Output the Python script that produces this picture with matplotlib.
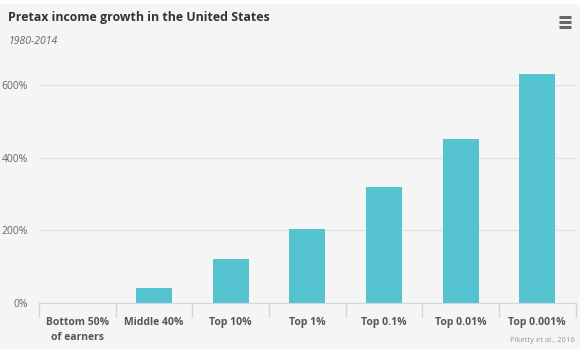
import matplotlib.pyplot as plt
from matplotlib.patches import Rectangle
from matplotlib.lines import Line2D
import numpy as np

plt.rcParams['font.family'] = ['Open Sans', 'DejaVu Sans']

categories = ['Bottom 50%\nof earners', 'Middle 40%', 'Top 10%', 'Top 1%',
              'Top 0.1%', 'Top 0.01%', 'Top 0.001%']
growth = [0, 40, 121, 204, 320, 450, 630]
yticks = [0, 200, 400, 600]
ytick_labels = ['0%', '200%', '400%', '600%']

W, H = 580, 360
fig = plt.figure(figsize=(W / 100, H / 100), dpi=100)
fig.patch.set_facecolor('white')

# grey chart background
fig.patches.append(Rectangle((0, 1 - 349 / H), 1, (349 - 4) / H,
                             transform=fig.transFigure, facecolor='#f5f5f5',
                             edgecolor='none', zorder=-5))

ax = fig.add_axes([39 / W, 57 / H, 536.5 / W, 236.3 / H])
ax.set_facecolor('none')
ax.set_zorder(2)

x = np.arange(len(categories))
ax.bar(x, growth, width=0.47, color='#56c3d0', zorder=3)

ax.set_xlim(-0.5, len(categories) - 0.5)
ax.set_ylim(0, 650)
ax.set_yticks(yticks)
ax.set_yticklabels(ytick_labels, color='#666666', fontsize=7.5)
ax.tick_params(axis='y', length=0, pad=8)
ax.grid(axis='y', color='#e3e3e3', linewidth=1, zorder=0)

# x labels at centres, ticks at boundaries
ax.set_xticks(x)
ax.set_xticklabels(categories, fontsize=7.5, fontweight='bold', color='#555555',
                   linespacing=1.5)
ax.tick_params(axis='x', length=0, pad=10)
ax.set_xticks(np.arange(len(categories) + 1) - 0.5, minor=True)
ax.tick_params(axis='x', which='minor', length=10, color='#cfd6e0', width=1)

for s in ['top', 'right', 'left']:
    ax.spines[s].set_visible(False)
ax.spines['bottom'].set_color('#cfd6e0')

fig.text(8 / W, 1 - 18 / H, 'Pretax income growth in the United States',
         fontsize=8.9, fontweight='bold', color='#333333', va='center')
fig.text(8 / W, 1 - 42 / H, '1980-2014', fontsize=7.5, style='italic',
         color='#666666', va='center')
fig.text(575 / W, 1 - 340 / H, 'Piketty et al., 2016', fontsize=5.5,
         color='#999999', ha='right', va='center')

# menu icon
for yy in [17, 22, 27]:
    fig.add_artist(Line2D([559 / W, 571 / W], [1 - yy / H, 1 - yy / H],
                          transform=fig.transFigure, color='#666666',
                          linewidth=2.2, solid_capstyle='butt'))

fig.savefig('out.png', dpi=100)
